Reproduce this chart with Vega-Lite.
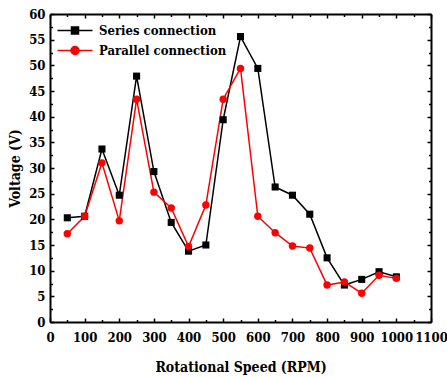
{
  "$schema": "https://vega.github.io/schema/vega-lite/v6.json",
  "autosize": "none",
  "width": 381,
  "height": 308,
  "padding": {"left": 50, "top": 14, "right": 16, "bottom": 55},
  "background": "white",
  "config": {
    "font": "DejaVu Serif Condensed",
    "view": {"stroke": null},
    "axis": {
      "labelFont": "DejaVu Serif Condensed", "labelFontWeight": "bold", "labelFontSize": 13, "labelColor": "black",
      "titleFont": "DejaVu Serif Condensed", "titleFontWeight": "bold", "titleFontSize": 14, "titleColor": "black",
      "domainColor": "black", "domainWidth": 2, "tickColor": "black", "tickWidth": 1.5, "grid": false
    }
  },
  "data": {"values": [
    {"rpm": 50, "v": 20.3, "c": "Series connection"},
    {"rpm": 100, "v": 20.6, "c": "Series connection"},
    {"rpm": 150, "v": 33.7, "c": "Series connection"},
    {"rpm": 200, "v": 24.7, "c": "Series connection"},
    {"rpm": 250, "v": 47.9, "c": "Series connection"},
    {"rpm": 300, "v": 29.3, "c": "Series connection"},
    {"rpm": 350, "v": 19.4, "c": "Series connection"},
    {"rpm": 400, "v": 13.8, "c": "Series connection"},
    {"rpm": 450, "v": 15.0, "c": "Series connection"},
    {"rpm": 500, "v": 39.4, "c": "Series connection"},
    {"rpm": 550, "v": 55.6, "c": "Series connection"},
    {"rpm": 600, "v": 49.4, "c": "Series connection"},
    {"rpm": 650, "v": 26.3, "c": "Series connection"},
    {"rpm": 700, "v": 24.7, "c": "Series connection"},
    {"rpm": 750, "v": 21.0, "c": "Series connection"},
    {"rpm": 800, "v": 12.5, "c": "Series connection"},
    {"rpm": 850, "v": 7.2, "c": "Series connection"},
    {"rpm": 900, "v": 8.3, "c": "Series connection"},
    {"rpm": 950, "v": 9.8, "c": "Series connection"},
    {"rpm": 1000, "v": 8.8, "c": "Series connection"},
    {"rpm": 50, "v": 17.2, "c": "Parallel connection"},
    {"rpm": 100, "v": 20.6, "c": "Parallel connection"},
    {"rpm": 150, "v": 31.0, "c": "Parallel connection"},
    {"rpm": 200, "v": 19.7, "c": "Parallel connection"},
    {"rpm": 250, "v": 43.4, "c": "Parallel connection"},
    {"rpm": 300, "v": 25.3, "c": "Parallel connection"},
    {"rpm": 350, "v": 22.2, "c": "Parallel connection"},
    {"rpm": 400, "v": 14.7, "c": "Parallel connection"},
    {"rpm": 450, "v": 22.8, "c": "Parallel connection"},
    {"rpm": 500, "v": 43.4, "c": "Parallel connection"},
    {"rpm": 550, "v": 49.4, "c": "Parallel connection"},
    {"rpm": 600, "v": 20.6, "c": "Parallel connection"},
    {"rpm": 650, "v": 17.4, "c": "Parallel connection"},
    {"rpm": 700, "v": 14.8, "c": "Parallel connection"},
    {"rpm": 750, "v": 14.4, "c": "Parallel connection"},
    {"rpm": 800, "v": 7.2, "c": "Parallel connection"},
    {"rpm": 850, "v": 7.8, "c": "Parallel connection"},
    {"rpm": 900, "v": 5.6, "c": "Parallel connection"},
    {"rpm": 950, "v": 9.1, "c": "Parallel connection"},
    {"rpm": 1000, "v": 8.5, "c": "Parallel connection"}
  ]},
  "resolve": {"axis": {"x": "independent", "y": "independent"}},
  "layer": [
    {
      "mark": {"type": "line", "strokeWidth": 1.5},
      "encoding": {
        "x": {"field": "rpm", "type": "quantitative", "scale": {"domain": [0, 1100], "nice": false},
          "axis": {"orient": "bottom", "title": "Rotational Speed (RPM)", "format": "d", "values": [0,100,200,300,400,500,600,700,800,900,1000,1100], "tickSize": -4, "labelPadding": 13, "titlePadding": 16, "labelOverlap": false, "labelFlush": false}},
        "y": {"field": "v", "type": "quantitative", "scale": {"domain": [0, 60], "nice": false},
          "axis": {"orient": "left", "title": "Voltage (V)", "values": [0,5,10,15,20,25,30,35,40,45,50,55,60], "tickSize": -4, "labelPadding": 9, "titlePadding": 6, "labelOverlap": false, "labelFlush": false}},
        "color": {"field": "c", "type": "nominal", "scale": {"domain": ["Series connection", "Parallel connection"], "range": ["black", "#ff0000"]},
          "legend": {
            "title": null, "orient": "none", "legendX": 18.5, "legendY": 10,
            "labelFont": "DejaVu Serif Condensed", "labelFontWeight": "bold", "labelFontSize": 13, "labelColor": "black",
            "rowPadding": 5, "labelOffset": 17.5, "symbolSize": 100,
            "encode": {"symbols": {"update": {
              "shape": [
                {"test": "datum.value === 'Series connection'", "value": "M-3.5,0H3.5M-0.7,-0.7H0.7V0.7H-0.7Z"},
                {"value": "M-3.5,0H3.5M-0.8,0A0.8,0.8 0 1,0 0.8,0A0.8,0.8 0 1,0 -0.8,0Z"}
              ],
              "strokeWidth": {"value": 1.5}
            }}}
          }}
      }
    },
    {
      "transform": [{"filter": "datum.c === 'Series connection'"}],
      "mark": {"type": "point", "shape": "square", "filled": true, "opacity": 1, "size": 50},
      "encoding": {
        "x": {"field": "rpm", "type": "quantitative", "axis": {"orient": "top", "title": null, "labels": false, "values": [0,100,200,300,400,500,600,700,800,900,1000,1100], "tickSize": -4}},
        "y": {"field": "v", "type": "quantitative", "axis": {"orient": "right", "title": null, "labels": false, "values": [0,5,10,15,20,25,30,35,40,45,50,55,60], "tickSize": -4}},
        "color": {"field": "c", "type": "nominal"}
      }
    },
    {
      "transform": [{"filter": "datum.c === 'Parallel connection'"}],
      "mark": {"type": "point", "shape": "circle", "filled": true, "opacity": 1, "size": 55},
      "encoding": {
        "x": {"field": "rpm", "type": "quantitative", "axis": {"orient": "bottom", "title": null, "labels": false, "domain": false, "values": [50,150,250,350,450,550,650,750,850,950,1050], "tickSize": -2.5}},
        "y": {"field": "v", "type": "quantitative", "axis": {"orient": "left", "title": null, "labels": false, "domain": false, "values": [2.5,7.5,12.5,17.5,22.5,27.5,32.5,37.5,42.5,47.5,52.5,57.5], "tickSize": -2.5}},
        "color": {"field": "c", "type": "nominal"}
      }
    },
    {
      "mark": {"type": "point", "opacity": 0},
      "encoding": {
        "x": {"field": "rpm", "type": "quantitative", "axis": {"orient": "top", "title": null, "labels": false, "domain": false, "values": [50,150,250,350,450,550,650,750,850,950,1050], "tickSize": -2.5}},
        "y": {"field": "v", "type": "quantitative", "axis": {"orient": "right", "title": null, "labels": false, "domain": false, "values": [2.5,7.5,12.5,17.5,22.5,27.5,32.5,37.5,42.5,47.5,52.5,57.5], "tickSize": -2.5}}
      }
    }
  ]
}
